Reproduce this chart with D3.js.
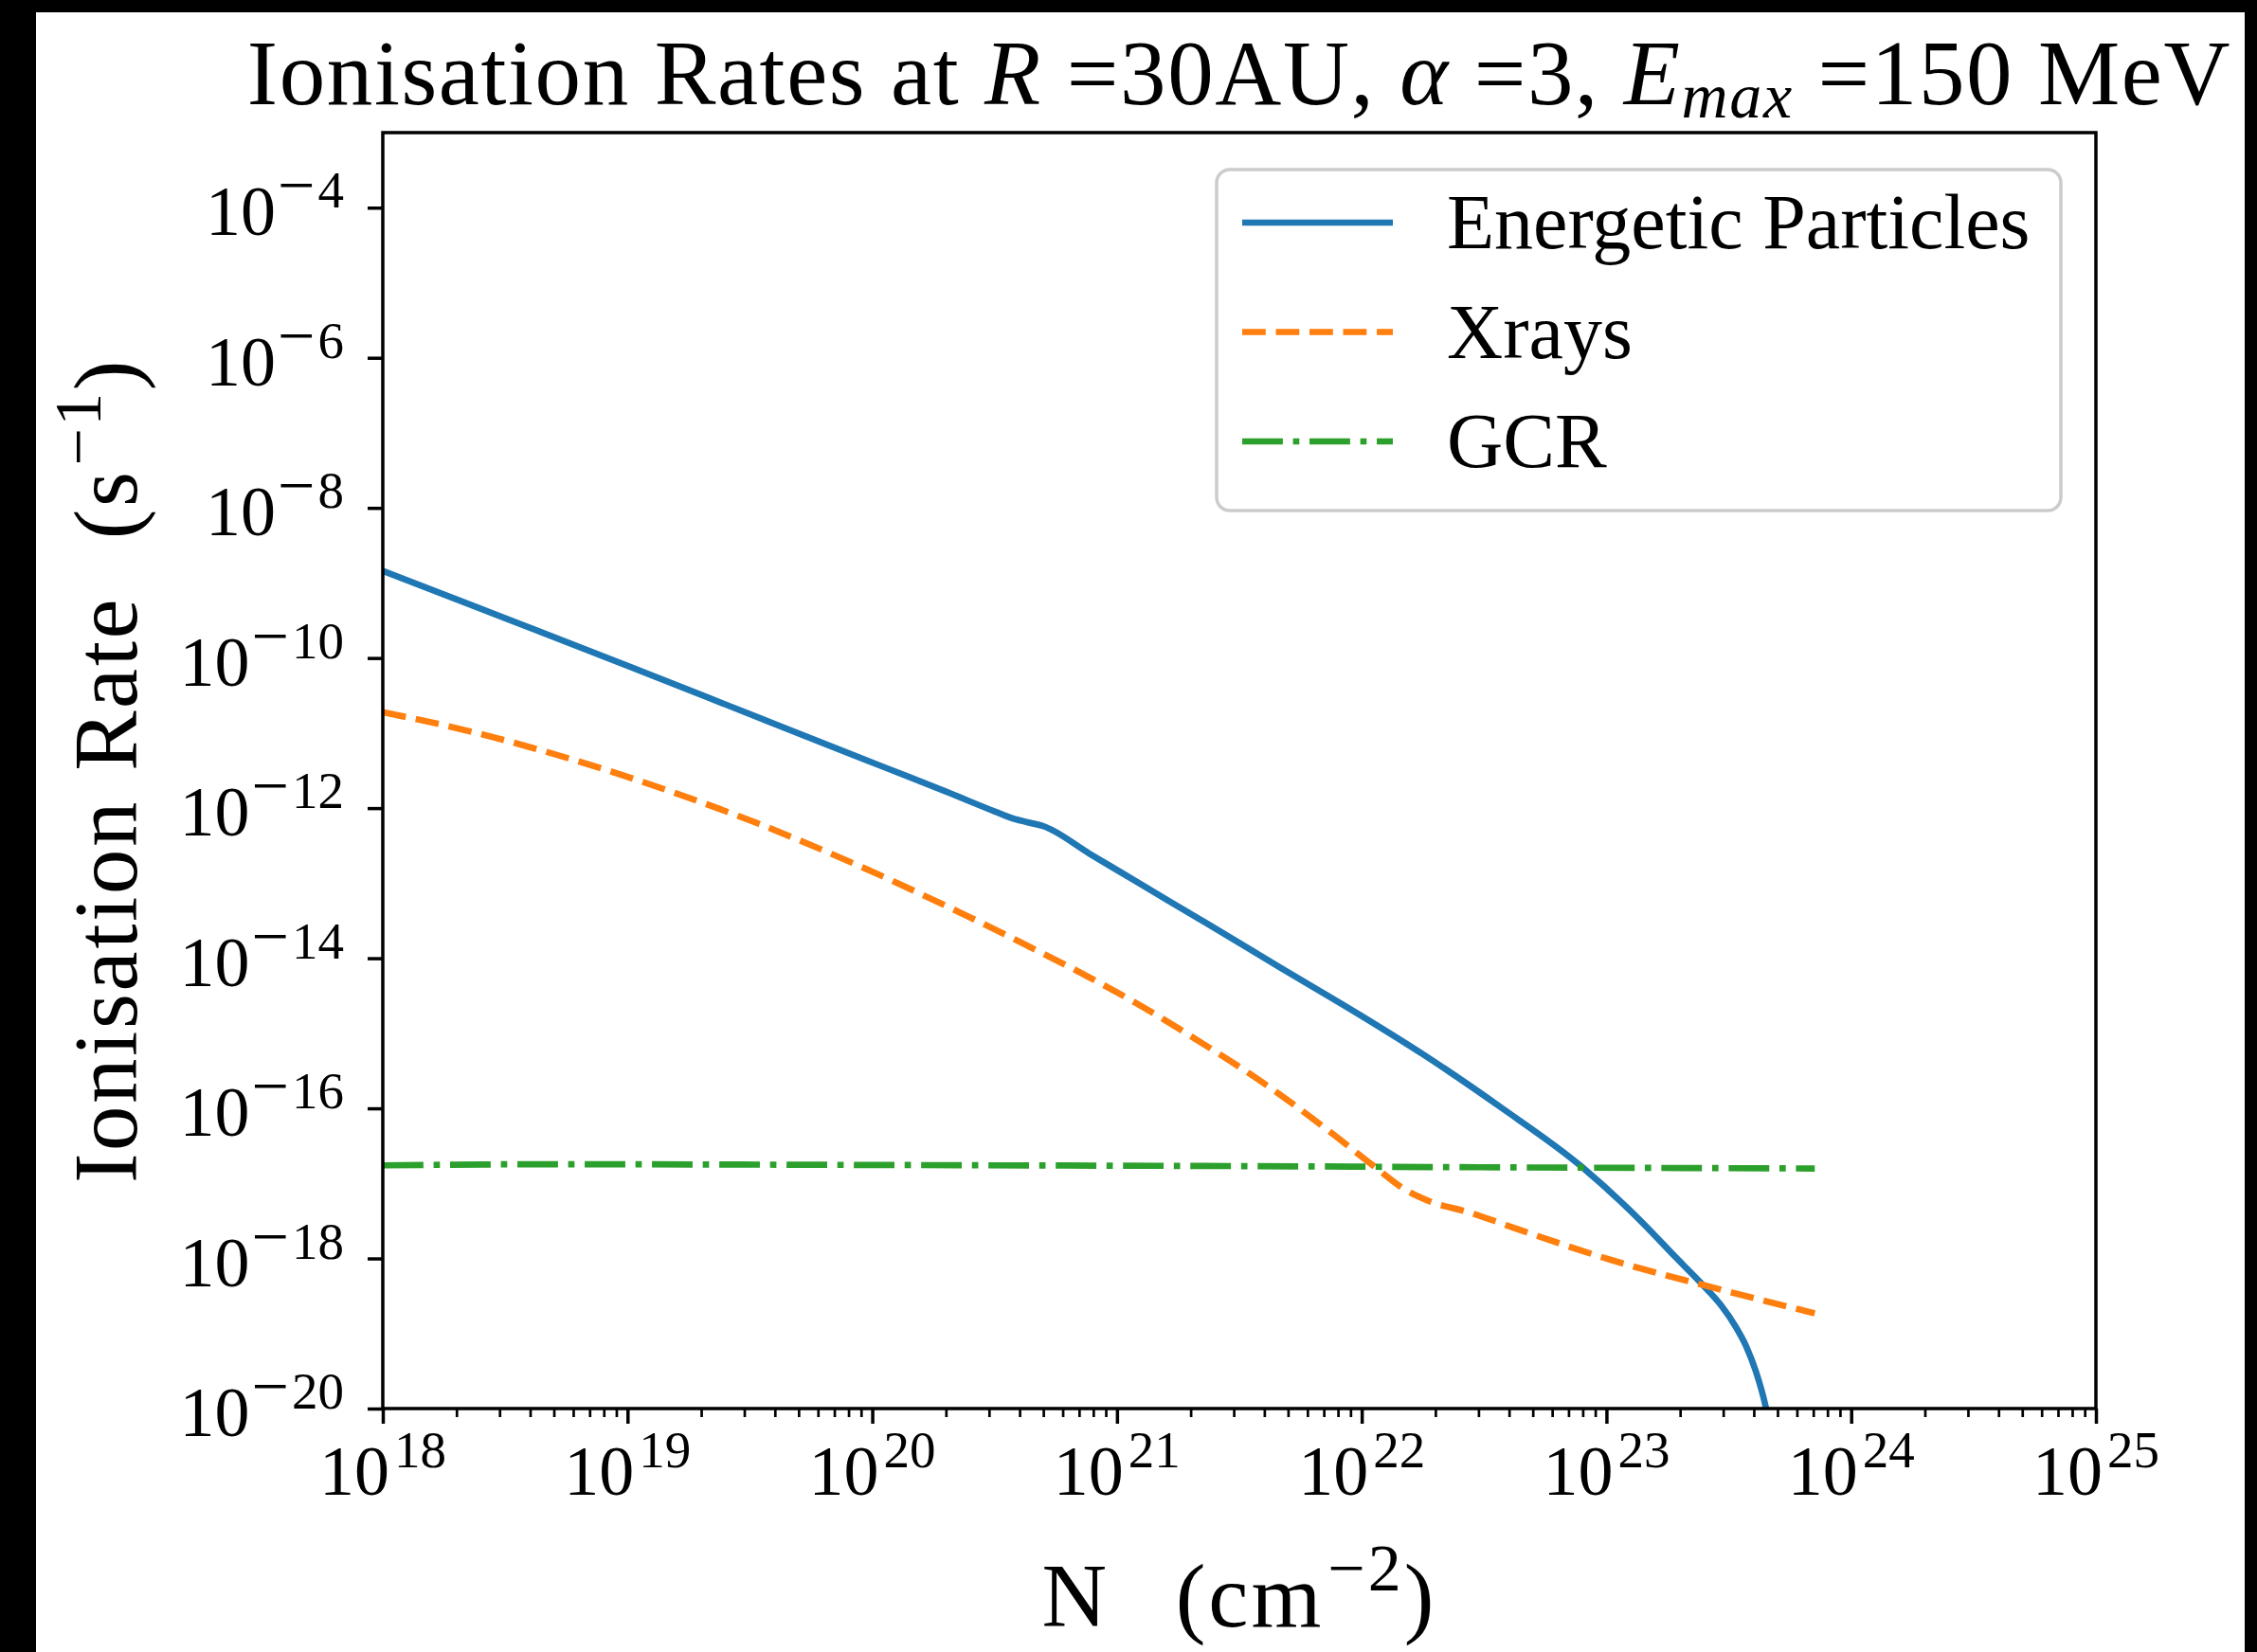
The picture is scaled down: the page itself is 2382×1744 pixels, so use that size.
<!DOCTYPE html>
<html>
<head>
<meta charset="utf-8">
<script src="https://cdn.jsdelivr.net/npm/d3@7"></script>
<style>
    body { margin: 0; background: #000; }
    svg { display: block; }
    text { font-family: "Liberation Serif", "DejaVu Serif", serif; fill: #000; white-space: pre; }
</style>
</head>
<body>
<svg id="chart" width="2382" height="1744"></svg>
<script>
// DATA: column density N (cm^-2) and ionisation rate (s^-1)
const epN    = [1.0e18, 3.16e18, 1.0e19, 3.44e19, 1.12e20, 2.0e20, 3.2e20, 3.7e20, 4.3e20, 5.0e20, 7.76e20,
                1.2e21, 2.51e21, 4.57e21, 1.0e22, 1.78e22, 3.72e22, 7.94e22, 1.41e23, 1.9e23, 2.57e23,
                2.95e23, 3.39e23, 3.72e23, 4.07e23, 4.47e23, 4.9e23];
const epRate = [1.45e-9, 3.4e-10, 7.9e-11, 1.6e-11, 3.5e-12, 1.66e-12, 8.9e-13, 7.4e-13, 6.5e-13, 5.75e-13, 2.45e-13,
                1.05e-13, 2.51e-14, 7.76e-15, 1.7e-15, 5.25e-16, 1.02e-16, 1.66e-17, 2.95e-18, 1.07e-18, 3.9e-19,
                2.34e-19, 1.2e-19, 6.8e-20, 3.2e-20, 1.07e-20, 2.0e-21];

const xrayN    = [1.0e18, 2.37e18, 5.75e18, 1.41e19, 3.44e19, 8.3e19, 2.04e20, 5.0e20, 7.76e20, 1.2e21,
                  1.9e21, 4.6e21, 7.2e21, 1.12e22, 1.5e22, 1.9e22, 2.75e22, 4.27e22, 1.05e23, 2.57e23, 7.1e23];
const xrayRate = [1.9e-11, 1.02e-11, 4.6e-12, 1.79e-12, 6.17e-13, 1.86e-13, 4.84e-14, 1.15e-14, 5.5e-15, 2.51e-15,
                  1.02e-15, 1.55e-16, 5.25e-17, 1.7e-17, 8.3e-18, 5.75e-18, 4.1e-18, 2.5e-18, 9.5e-19, 4.3e-19, 1.86e-19];

const gcrN    = [1.0e18, 5.0e18, 3.0e19, 3.0e20, 3.0e21, 3.0e22, 7.1e23];
const gcrRate = [1.74e-17, 1.8e-17, 1.78e-17, 1.74e-17, 1.7e-17, 1.64e-17, 1.58e-17];

const seriesNames = ["Energetic Particles", "Xrays", "GCR"];
const xTickExps = [18, 19, 20, 21, 22, 23, 24, 25];
const yTickExps = [-20, -18, -16, -14, -12, -10, -8, -6, -4];

// SETUP
const W = 2382, H = 1744;
const margin = { top: 140, right: W - 2212, bottom: H - 1487, left: 404 },
    width = W - margin.left - margin.right,
    height = H - margin.top - margin.bottom;

const svg0 = d3.select("#chart");

// black frame round the page, as in the reference screenshot
svg0.append("rect").attr("width", W).attr("height", H).attr("fill", "#000");
svg0.append("rect").attr("x", 38).attr("y", 13).attr("width", 2369 - 38).attr("height", H - 13).attr("fill", "#fff");

const svg = svg0.append("g")
    .attr("transform", `translate(${margin.left},${margin.top})`);

// SCALES
const x = d3.scaleLog().domain([1e18, 1e25]).range([0, width]);
const y = d3.scaleLog().domain([1e-20, 1e-3]).range([height, 0]);

const line = d3.line()
    .x(d => x(d[0]))
    .y(d => y(d[1]))
    .curve(d3.curveMonotoneX);

// clip lines to the axes box
svg.append("clipPath").attr("id", "plotClip")
    .append("rect").attr("width", width).attr("height", height);

const lw = 6.7;
const series = [
    { name: seriesNames[0], pts: d3.zip(epN, epRate), color: "#1f77b4", dash: null },
    { name: seriesNames[1], pts: d3.zip(xrayN, xrayRate), color: "#ff7f0e", dash: `${3.7 * lw},${1.6 * lw}` },
    { name: seriesNames[2], pts: d3.zip(gcrN, gcrRate), color: "#2ca02c", dash: `${6.4 * lw},${1.6 * lw},${1 * lw},${1.6 * lw}` }
];

svg.append("g").attr("clip-path", "url(#plotClip)")
    .selectAll("path")
    .data(series)
    .join("path")
    .attr("d", d => line(d.pts))
    .attr("fill", "none")
    .attr("stroke", d => d.color)
    .attr("stroke-width", lw)
    .attr("stroke-dasharray", d => d.dash);

// AXES
const xMajor = xTickExps.map(e => Math.pow(10, e));
const xMinor = x.ticks().filter(v => !xTickExps.includes(Math.round(Math.log10(v) * 1000) / 1000));

const gx = svg.append("g").attr("transform", `translate(0,${height})`);
gx.append("g")
    .call(d3.axisBottom(x).tickValues(xMinor).tickSize(9).tickFormat(() => ""))
    .call(g => g.select(".domain").remove())
    .selectAll("line").attr("stroke-width", 2.7);
gx.append("g")
    .call(d3.axisBottom(x).tickValues(xMajor).tickSize(16).tickFormat(() => ""))
    .call(g => g.select(".domain").remove())
    .selectAll("line").attr("stroke-width", 3.5);

svg.append("g")
    .call(d3.axisLeft(y).tickValues(yTickExps.map(e => Math.pow(10, e))).tickSize(16).tickFormat(() => ""))
    .call(g => g.select(".domain").remove())
    .selectAll("line").attr("stroke-width", 3.5);

// tick labels as 10^n
const xLab = svg.append("g").selectAll("text")
    .data(xTickExps)
    .join("text")
    .attr("x", d => x(Math.pow(10, d)))
    .attr("y", height + 91)
    .attr("text-anchor", "middle")
    .attr("font-size", 74);
xLab.append("tspan").text("10");
xLab.append("tspan").attr("font-size", 55).attr("dx", 5).attr("dy", -29).text(d => d);

const yLab = svg.append("g").selectAll("text")
    .data(yTickExps)
    .join("text")
    .attr("x", -41)
    .attr("y", d => y(Math.pow(10, d)) + 29)
    .attr("text-anchor", "end")
    .attr("font-size", 74);
yLab.append("tspan").text("10");
yLab.append("tspan").attr("font-size", 70).attr("dx", 2).attr("dy", -29).text("\u2212");
yLab.append("tspan").attr("font-size", 55).attr("dx", 3).text(d => Math.abs(d));

// frame (spines)
svg.append("rect")
    .attr("width", width)
    .attr("height", height)
    .attr("fill", "none")
    .attr("stroke", "#000")
    .attr("stroke-width", 3.5);

// LEGEND
const legend = svg.append("g").attr("transform", "translate(880,39)");
legend.append("rect")
    .attr("width", 891)
    .attr("height", 360)
    .attr("rx", 14)
    .attr("fill", "#fff")
    .attr("fill-opacity", 0.8)
    .attr("stroke", "#cccccc")
    .attr("stroke-width", 3.5);

const rows = legend.selectAll("g.row")
    .data(series)
    .join("g")
    .attr("class", "row")
    .attr("transform", (d, i) => `translate(0,${56 + i * 115.5})`);
rows.append("line")
    .attr("x1", 27).attr("x2", 186)
    .attr("stroke", d => d.color)
    .attr("stroke-width", lw)
    .attr("stroke-dasharray", d => d.dash);
rows.append("text")
    .attr("x", 243)
    .attr("y", 27)
    .attr("font-size", 82)
    .text(d => d.name);

// TITLE
const title = svg.append("text")
    .attr("x", width / 2)
    .attr("y", 110 - margin.top)
    .attr("text-anchor", "middle")
    .attr("font-size", 97)
    .attr("letter-spacing", 1.6);
title.append("tspan").text("Ionisation Rates at ");
title.append("tspan").attr("font-style", "italic").text("R");
title.append("tspan").text(" =30AU, ");
title.append("tspan").attr("font-style", "italic").text("\u03b1");
title.append("tspan").text(" =3, ");
title.append("tspan").attr("font-style", "italic").text("E");
title.append("tspan").attr("font-style", "italic").attr("font-size", 68).attr("dy", 14).text("max");
title.append("tspan").attr("dy", -14).text(" =150 MeV");

// AXIS LABELS
const xTitle = svg.append("text")
    .attr("x", width / 2)
    .attr("y", 1717 - margin.top)
    .attr("text-anchor", "middle")
    .attr("font-size", 95)
    .attr("letter-spacing", 3)
    .attr("word-spacing", 8);
xTitle.append("tspan").text("N  (cm");
xTitle.append("tspan").attr("font-size", 70).attr("dx", 4).attr("dy", -38).text("\u22122");
xTitle.append("tspan").attr("dy", 38).text(")");

const yTitle = svg.append("text")
    .attr("transform", `translate(${144 - margin.left},${height / 2}) rotate(-90)`)
    .attr("text-anchor", "middle")
    .attr("font-size", 95)
    .attr("letter-spacing", 2.5)
    .attr("word-spacing", 4);
yTitle.append("tspan").text("Ionisation Rate  (s");
yTitle.append("tspan").attr("font-size", 70).attr("dx", 4).attr("dy", -38).text("\u22121");
yTitle.append("tspan").attr("dy", 38).text(")");
</script>
</body>
</html>
